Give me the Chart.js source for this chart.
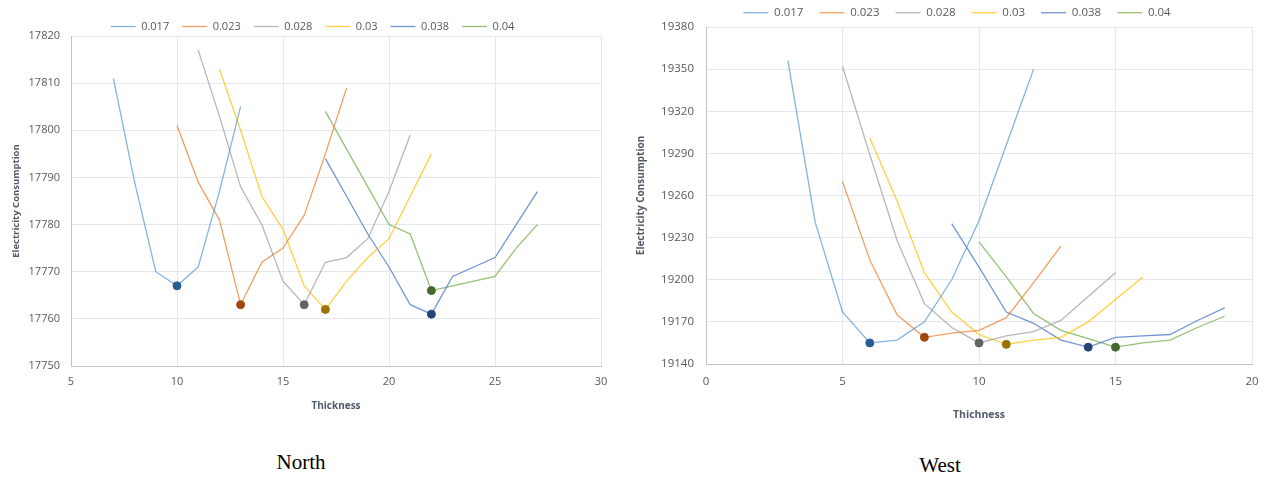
<!DOCTYPE html>
<html>
<head>
<meta charset="utf-8">
<script src="https://cdn.jsdelivr.net/npm/chart.js@4.4.1/dist/chart.umd.min.js"></script>
<style>
  html, body { margin:0; padding:0; background:#fff; overflow:hidden; }
  body { width:1267px; height:477px; position:relative; }
  .box { position:absolute; }
  #northBox { left:0; top:0; width:625px; height:430px; }
  #westBox { left:628px; top:-20px; width:659px; height:460px; }
  .caption { position:absolute; width:120px; text-align:center; line-height:24px;
             font-family:"Liberation Serif", "Times New Roman", serif; font-size:21px; color:#000; }
</style>
</head>
<body>
<div class="box" id="northBox"><canvas id="north"></canvas></div>
<div class="box" id="westBox"><canvas id="west"></canvas></div>
<div class="caption" style="left:241px; top:450px;">North</div>
<div class="caption" style="left:880px; top:453px;">West</div>
<script>
// series = insulation conductivity, x = thickness
const seriesNames = ['0.017', '0.023', '0.028', '0.03', '0.038', '0.04'];
const lineColors = ['rgba(91,155,213,0.75)', 'rgba(237,125,49,0.75)', 'rgba(165,165,165,0.8)',
                    'rgba(255,192,0,0.75)', 'rgba(68,114,196,0.75)', 'rgba(112,173,71,0.75)'];
const markColors = ['#255e91', '#9e480e', '#636363', '#997300', '#264478', '#43682b'];

// North
const northStart = [7, 10, 11, 12, 17, 17];
const north017 = [17811, 17789, 17770, 17767, 17771, 17787, 17805];
const north023 = [17801, 17789, 17781, 17763, 17772, 17775, 17782, 17795, 17809];
const north028 = [17817, 17803, 17788, 17780, 17768, 17763, 17772, 17773, 17777, 17787, 17799];
const north03  = [17813, 17800, 17786, 17779, 17767, 17762, 17768, 17773, 17777, 17786, 17795];
const north038 = [17794, 17786, 17778, 17771, 17763, 17761, 17769, 17771, 17773, 17780, 17787];
const north04  = [17804, 17796, 17788, 17780, 17778, 17766, 17767, 17768, 17769, 17775, 17780];
const northXTicks = [5, 10, 15, 20, 25, 30];
const northYTicks = [17750, 17760, 17770, 17780, 17790, 17800, 17810, 17820];

// West
const westStart = [3, 5, 5, 6, 9, 10];
const west017 = [19356, 19241, 19177, 19155, 19157, 19170, 19200, 19242, 19296, 19350];
const west023 = [19270, 19214, 19175, 19159, 19162, 19164, 19173, 19198, 19224];
const west028 = [19352, 19289, 19228, 19183, 19166, 19155, 19160, 19163, 19171, 19188, 19205];
const west03  = [19301, 19256, 19205, 19177, 19161, 19154, 19157, 19159, 19170, 19186, 19202];
const west038 = [19240, 19209, 19177, 19169, 19157, 19152, 19159, 19160, 19161, 19171, 19180];
const west04  = [19227, 19202, 19176, 19164, 19158, 19152, 19155, 19157, 19166, 19174];
const westXTicks = [0, 5, 10, 15, 20];
const westYTicks = [19140, 19170, 19200, 19230, 19260, 19290, 19320, 19350, 19380];

const fontFam = '"Open Sans", "Liberation Sans", sans-serif';
const tickColor = '#595959';
const titleColor = '#505a68';
const gridColor = '#e4e7ed';
const axisColor = '#bcc5d3';

// one dataset per conductivity, dot only on the lowest point
function buildSets(starts, values){
  return values.map(function(vals, i){
    const minIdx = vals.indexOf(Math.min(...vals));
    return {
      label: seriesNames[i],
      data: vals.map((v, j) => ({x: starts[i] + j, y: v})),
      borderColor: lineColors[i],
      backgroundColor: lineColors[i],
      borderWidth: 1.3,
      tension: 0,
      fill: false,
      pointRadius: c => c.dataIndex === minIdx ? 4 : 0,
      pointHoverRadius: 0,
      pointBackgroundColor: markColors[i],
      pointBorderColor: markColors[i],
      pointBorderWidth: 1
    };
  });
}

// legend sample uses the line colour, not the marker colour
function legendLabels(chart){
  return Chart.defaults.plugins.legend.labels.generateLabels(chart).map(function(item){
    const ds = chart.data.datasets[item.datasetIndex];
    item.strokeStyle = ds.borderColor;
    item.fillStyle = ds.borderColor;
    item.lineWidth = ds.borderWidth;
    item.pointStyle = 'line';
    return item;
  });
}

// legend is centred on the whole chart box, not just left padding..plot right
const legendShift = {
  id: 'legendShift',
  afterLayout(chart, args, opts){
    chart.legend.left += opts.dx;
    chart.legend.right += opts.dx;
  }
};

function makeChart(id, sets, xTicks, yTicks, xTitle, o){
  return new Chart(document.getElementById(id).getContext('2d'), {
    type: 'line',
    data: { datasets: sets },
    plugins: [legendShift],
    options: {
      responsive: true, maintainAspectRatio: false, animation: false,
      devicePixelRatio: 1,
      layout: { padding: { top: o.padTop, left: o.padLeft, right: o.padRight, bottom: 0 } },
      plugins: {
        tooltip: { enabled: false },
        legendShift: { dx: o.legendDx },
        legend: {
          position: 'top', maxHeight: o.legendH,
          labels: { usePointStyle: true, pointStyle: 'line', pointStyleWidth: 25, padding: o.legendPad,
                    generateLabels: legendLabels,
                    color: tickColor, font: { family: fontFam, size: o.legendSize } }
        }
      },
      scales: {
        x: {
          type: 'linear', min: xTicks[0], max: xTicks[xTicks.length - 1],
          afterBuildTicks: s => { s.ticks = xTicks.map(v => ({value: v})); },
          afterFit: s => { s.height = o.xHeight; s.paddingLeft = 0; s.paddingRight = 0; },
          grid: { color: gridColor, drawTicks: false },
          border: { color: axisColor },
          ticks: { padding: o.xTickPad, color: tickColor, maxRotation: 0,
                   callback: v => String(v),
                   font: { family: fontFam, size: o.tickSize } },
          title: { display: true, text: xTitle, color: titleColor,
                   font: { family: fontFam, size: o.xTitleSize, weight: 'bold' },
                   padding: { top: 0, bottom: o.xTitlePad } }
        },
        y: {
          min: yTicks[0], max: yTicks[yTicks.length - 1],
          afterBuildTicks: s => { s.ticks = yTicks.map(v => ({value: v})); },
          afterFit: s => { s.width = o.yWidth; s.paddingTop = 0; s.paddingBottom = 0; },
          grid: { color: gridColor, drawTicks: false },
          border: { color: axisColor },
          ticks: { padding: o.yTickPad, color: tickColor,
                   callback: v => String(v),
                   font: { family: fontFam, size: o.tickSize } },
          title: { display: true, text: 'Electricity Consumption', color: titleColor,
                   font: { family: fontFam, size: o.yTitleSize, weight: 'bold' },
                   padding: { top: o.yTitlePad, bottom: 0 } }
        }
      }
    }
  });
}

makeChart('north',
  buildSets(northStart, [north017, north023, north028, north03, north038, north04]),
  northXTicks, northYTicks, 'Thickness',
  { padTop: 8, padLeft: 4, padRight: 24, legendH: 28, legendPad: 13, legendSize: 11, legendDx: 10,
    xHeight: 64, xTickPad: 9.5, xTitlePad: 17.4, xTitleSize: 10, tickSize: 11,
    yWidth: 67, yTickPad: 11, yTitleSize: 9.5, yTitlePad: 6.3 });

makeChart('west',
  buildSets(westStart, [west017, west023, west028, west03, west038, west04]),
  westXTicks, westYTicks, 'Thichness',
  { padTop: 11, padLeft: 2, padRight: 35, legendH: 36, legendPad: 16, legendSize: 11.5, legendDx: 16,
    xHeight: 76, xTickPad: 11, xTitlePad: 18.7, xTitleSize: 10.5, tickSize: 11.5,
    yWidth: 76, yTickPad: 12, yTitleSize: 10, yTitlePad: 4.7 });
</script>
</body>
</html>
